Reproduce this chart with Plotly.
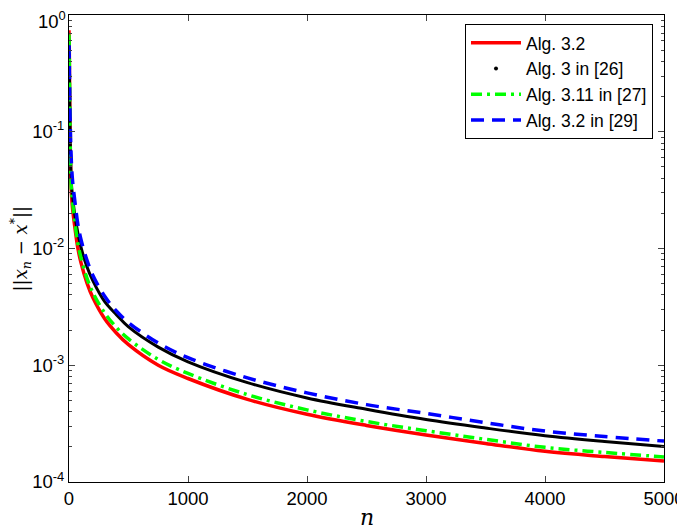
import plotly.graph_objects as go

n = [0, 2, 5, 10, 20, 30, 50, 75, 100, 150, 200, 300, 400, 500, 750,
     1000, 1500, 2000, 2500, 3000, 3500, 4000, 4500, 5000]

# ||x_n - x*|| for each algorithm
alg32 = [0.74, 0.55, 0.25, 0.08, 0.030, 0.022, 0.0150, 0.0100, 0.0076, 0.0051,
         0.0038, 0.0025, 0.00188, 0.0015, 0.00100, 0.00077, 0.00051, 0.00038,
         0.000305, 0.000253, 0.000214, 0.000183, 0.000165, 0.000151]
alg3_26 = [0.62, 0.45, 0.22, 0.09, 0.036, 0.028, 0.019, 0.0135, 0.0103, 0.0070,
           0.0053, 0.0035, 0.0027, 0.00213, 0.00143, 0.00107, 0.00071, 0.000525,
           0.00042, 0.000343, 0.000290, 0.000249, 0.000222, 0.000201]
alg311_27 = [0.68, 0.50, 0.24, 0.085, 0.032, 0.025, 0.0165, 0.0110, 0.0084, 0.0056,
             0.0042, 0.0028, 0.0021, 0.00168, 0.00112, 0.00085, 0.00056, 0.000415,
             0.00033, 0.000275, 0.000232, 0.000198, 0.000179, 0.000164]
alg32_29 = [0.55, 0.42, 0.25, 0.12, 0.055, 0.038, 0.025, 0.016, 0.0120, 0.0080,
            0.0059, 0.0039, 0.0029, 0.00232, 0.00155, 0.00116, 0.00078, 0.00058,
            0.00046, 0.000387, 0.000322, 0.000273, 0.000245, 0.000224]

labels = ['Alg. 3.2', 'Alg. 3 in [26]', 'Alg. 3.11 in [27]', 'Alg. 3.2 in [29]']

y_ticks = [1, 0.1, 0.01, 0.001, 0.0001]
# top label is placed as an annotation so its superscript is not clipped
y_text = ['', '10<sup>-1</sup>', '10<sup>-2</sup>',
          '10<sup>-3</sup>', '10<sup>-4</sup>']
top_label = '10<sup>0</sup>'
x_ticks = [0, 1000, 2000, 3000, 4000, 5000]

fig = go.Figure()

# red solid
fig.add_trace(go.Scatter(x=n, y=alg32, mode='lines', name=labels[0],
                         line=dict(color='#ff0000', width=3.5, shape='spline'),
                         legendrank=1))
# black (solid in plot, dot in legend)
fig.add_trace(go.Scatter(x=n, y=alg3_26, mode='lines', name=labels[1],
                         line=dict(color='black', width=3, shape='spline'),
                         showlegend=False))
fig.add_trace(go.Scatter(x=[None], y=[None], mode='markers', name=labels[1],
                         marker=dict(color='black', size=4), legendrank=2))
# green dash-dot
fig.add_trace(go.Scatter(x=n, y=alg311_27, mode='lines', name=labels[2],
                         line=dict(color='#00ff00', width=3.5, shape='spline',
                                   dash='11px,5px,3px,5px'), legendrank=3))
# blue dashed
fig.add_trace(go.Scatter(x=n, y=alg32_29, mode='lines', name=labels[3],
                         line=dict(color='#0000ff', width=3.5, shape='spline',
                                   dash='13px,8px'),
                         legendrank=4))

minor_vals = [m * 10.0 ** e for e in range(-4, 0) for m in range(2, 10)]

# the page body adds an 8 px offset, so margins are shifted to compensate
fig.update_layout(
    width=685, height=529,
    margin=dict(l=61, r=29, t=7, b=55),
    paper_bgcolor='white', plot_bgcolor='white',
    font=dict(family='Liberation Sans, Arial, sans-serif', size=18, color='black'),
    xaxis=dict(range=[0, 5000], tickvals=x_ticks, ticks='inside', ticklen=6,
               showline=True, linecolor='black', linewidth=1, mirror='ticks',
               showgrid=False, zeroline=False, tickfont=dict(size=18.5),
               automargin=False, ticklabeloverflow='allow'),
    yaxis=dict(type='log', range=[-4, 0], tickvals=y_ticks, ticktext=y_text,
               ticks='inside', ticklen=6, showline=True, linecolor='black',
               linewidth=1, mirror='ticks', showgrid=False, zeroline=False,
               tickfont=dict(size=18.5), automargin=False,
               ticklabeloverflow='allow',
               minor=dict(tickvals=minor_vals, ticks='inside', ticklen=3,
                          showgrid=False)),
    legend=dict(x=0.9815, y=0.981, xanchor='right', yanchor='top',
                bgcolor='white', bordercolor='black', borderwidth=1,
                font=dict(size=17.5), tracegroupgap=0, itemwidth=50),
    annotations=[
        dict(text=top_label, xref='paper', yref='paper', x=0, y=1,
             xanchor='right', yanchor='top', xshift=-2, yshift=8,
             showarrow=False, borderpad=0, font=dict(size=18.5)),
        dict(text='<i>n</i>', xref='paper', yref='paper', x=0.5, y=-0.077,
             xanchor='center', yanchor='middle', showarrow=False,
             font=dict(family='DejaVu Serif, serif', size=22)),
        dict(text='||<i>x<sub>n</sub></i> − <i>x</i><sup>*</sup>||',
             xref='paper', yref='paper', x=-0.0824, y=0.5, textangle=-90,
             xanchor='center', yanchor='middle', showarrow=False,
             font=dict(family='DejaVu Serif, serif', size=18)),
    ],
)

fig.write_html('out.html')
